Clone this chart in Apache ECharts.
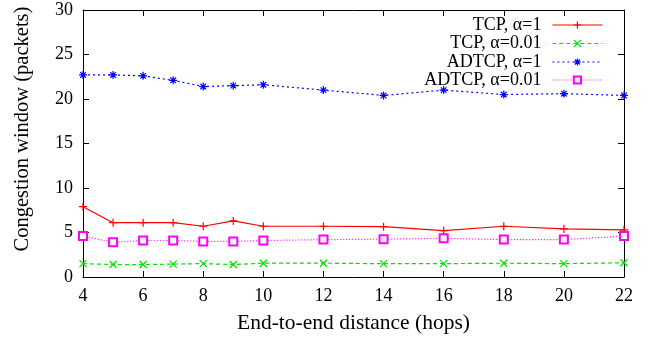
<!DOCTYPE html>
<html>
<head>
<meta charset="utf-8">
<script src="https://cdn.jsdelivr.net/npm/echarts@6/dist/echarts.min.js"></script>
<style>
  html, body { margin: 0; padding: 0; background: #fff; }
  #chart { width: 648px; height: 339px; }
</style>
</head>
<body>
<div id="chart"></div>
<script>
const hops = [4, 5, 6, 7, 8, 9, 10, 12, 14, 16, 18, 20, 22];
const tcpAlpha1 = [7.9, 6.1, 6.1, 6.1, 5.7, 6.3, 5.7, 5.7, 5.65, 5.2, 5.7, 5.4, 5.3];
const tcpAlpha001 = [1.5, 1.4, 1.4, 1.45, 1.5, 1.4, 1.55, 1.55, 1.5, 1.5, 1.55, 1.5, 1.6];
const adtcpAlpha1 = [22.7, 22.7, 22.6, 22.1, 21.4, 21.5, 21.6, 21.0, 20.4, 21.0, 20.5, 20.6, 20.4];
const adtcpAlpha001 = [4.6, 3.9, 4.1, 4.1, 4.0, 4.0, 4.1, 4.2, 4.25, 4.35, 4.2, 4.2, 4.6];
const seriesNames = ["TCP, α=1", "TCP, α=0.01", "ADTCP, α=1", "ADTCP, α=0.01"];

const font = "Liberation Serif";
const pair = (ys) => hops.map((x, i) => [x, ys[i]]);

const plusPath = "path://M5,0L5,10M0,5L10,5";
const crossPath = "path://M0,0L10,10M0,10L10,0";
const starPath = "path://M0,5L10,5M5,0L5,10M1.5,1.5L8.5,8.5M1.5,8.5L8.5,1.5";

function mkSeries(name, ys, color, lineType, symbol, size) {
  return {
    name: name,
    type: "line",
    data: pair(ys),
    symbol: symbol,
    symbolSize: size,
    showAllSymbol: true,
    lineStyle: { color: color, width: 1.2, type: lineType },
    itemStyle: { color: color, borderColor: color, borderWidth: 1.2 },
  };
}

// gnuplot-style key: text right-aligned, sample on the right
const legendTops = [16, 34.5, 53, 71];
const legends = seriesNames.map((n, i) => ({
  data: [n],
  right: 45,
  top: legendTops[i],
  align: "right",
  itemWidth: 50,
  itemHeight: 9,
  itemGap: 0,
  padding: 0,
  lineStyle: { width: 1.2 },
  itemStyle: { borderWidth: 1.2 },
  textStyle: { fontFamily: font, fontSize: 18, color: "#000", padding: [0, 6, 0, 0] },
}));

const chart = echarts.init(document.getElementById("chart"));
chart.setOption({
  animation: false,
  grid: { left: 83, right: 24, top: 10, bottom: 62, outerBoundsMode: "none" },
  legend: legends,
  xAxis: [
    {
      type: "value",
      min: 4, max: 22, interval: 2,
      name: "End-to-end distance (hops)",
      nameLocation: "middle",
      nameGap: 35,
      nameTextStyle: { fontFamily: font, fontSize: 21.5, color: "#000" },
      axisLine: { show: true, lineStyle: { color: "#000", width: 1 } },
      axisTick: { show: true, inside: true, length: 6, lineStyle: { color: "#000" } },
      axisLabel: { fontFamily: font, fontSize: 18, color: "#000", margin: 10 },
      splitLine: { show: false },
    },
    {
      type: "value",
      position: "top",
      min: 4, max: 22, interval: 2,
      axisLine: { show: true, onZero: false, lineStyle: { color: "#000", width: 1 } },
      axisTick: { show: true, inside: true, length: 6, lineStyle: { color: "#000" } },
      axisLabel: { show: false },
      splitLine: { show: false },
    },
  ],
  yAxis: [
    {
      type: "value",
      min: 0, max: 30, interval: 5,
      name: "Congestion window (packets)",
      nameLocation: "middle",
      nameGap: 50,
      nameTextStyle: { fontFamily: font, fontSize: 20.5, color: "#000", padding: [0, 0, 0, 29] },
      axisLine: { show: true, lineStyle: { color: "#000", width: 1 } },
      axisTick: { show: true, inside: true, length: 6, lineStyle: { color: "#000" } },
      axisLabel: { fontFamily: font, fontSize: 18, color: "#000", margin: 10 },
      splitLine: { show: false },
    },
    {
      type: "value",
      position: "right",
      min: 0, max: 30, interval: 5,
      axisLine: { show: true, onZero: false, lineStyle: { color: "#000", width: 1 } },
      axisTick: { show: true, inside: true, length: 6, lineStyle: { color: "#000" } },
      axisLabel: { show: false },
      splitLine: { show: false },
    },
  ],
  series: [
    mkSeries(seriesNames[0], tcpAlpha1, "#ff0000", "solid", plusPath, 8),
    mkSeries(seriesNames[1], tcpAlpha001, "#00e000", [4, 3], crossPath, 7),
    mkSeries(seriesNames[2], adtcpAlpha1, "#0000ff", [2, 3], starPath, 8),
    mkSeries(seriesNames[3], adtcpAlpha001, "#ff00ff", [1, 2], "emptyRect", 8),
  ],
});
</script>
</body>
</html>
